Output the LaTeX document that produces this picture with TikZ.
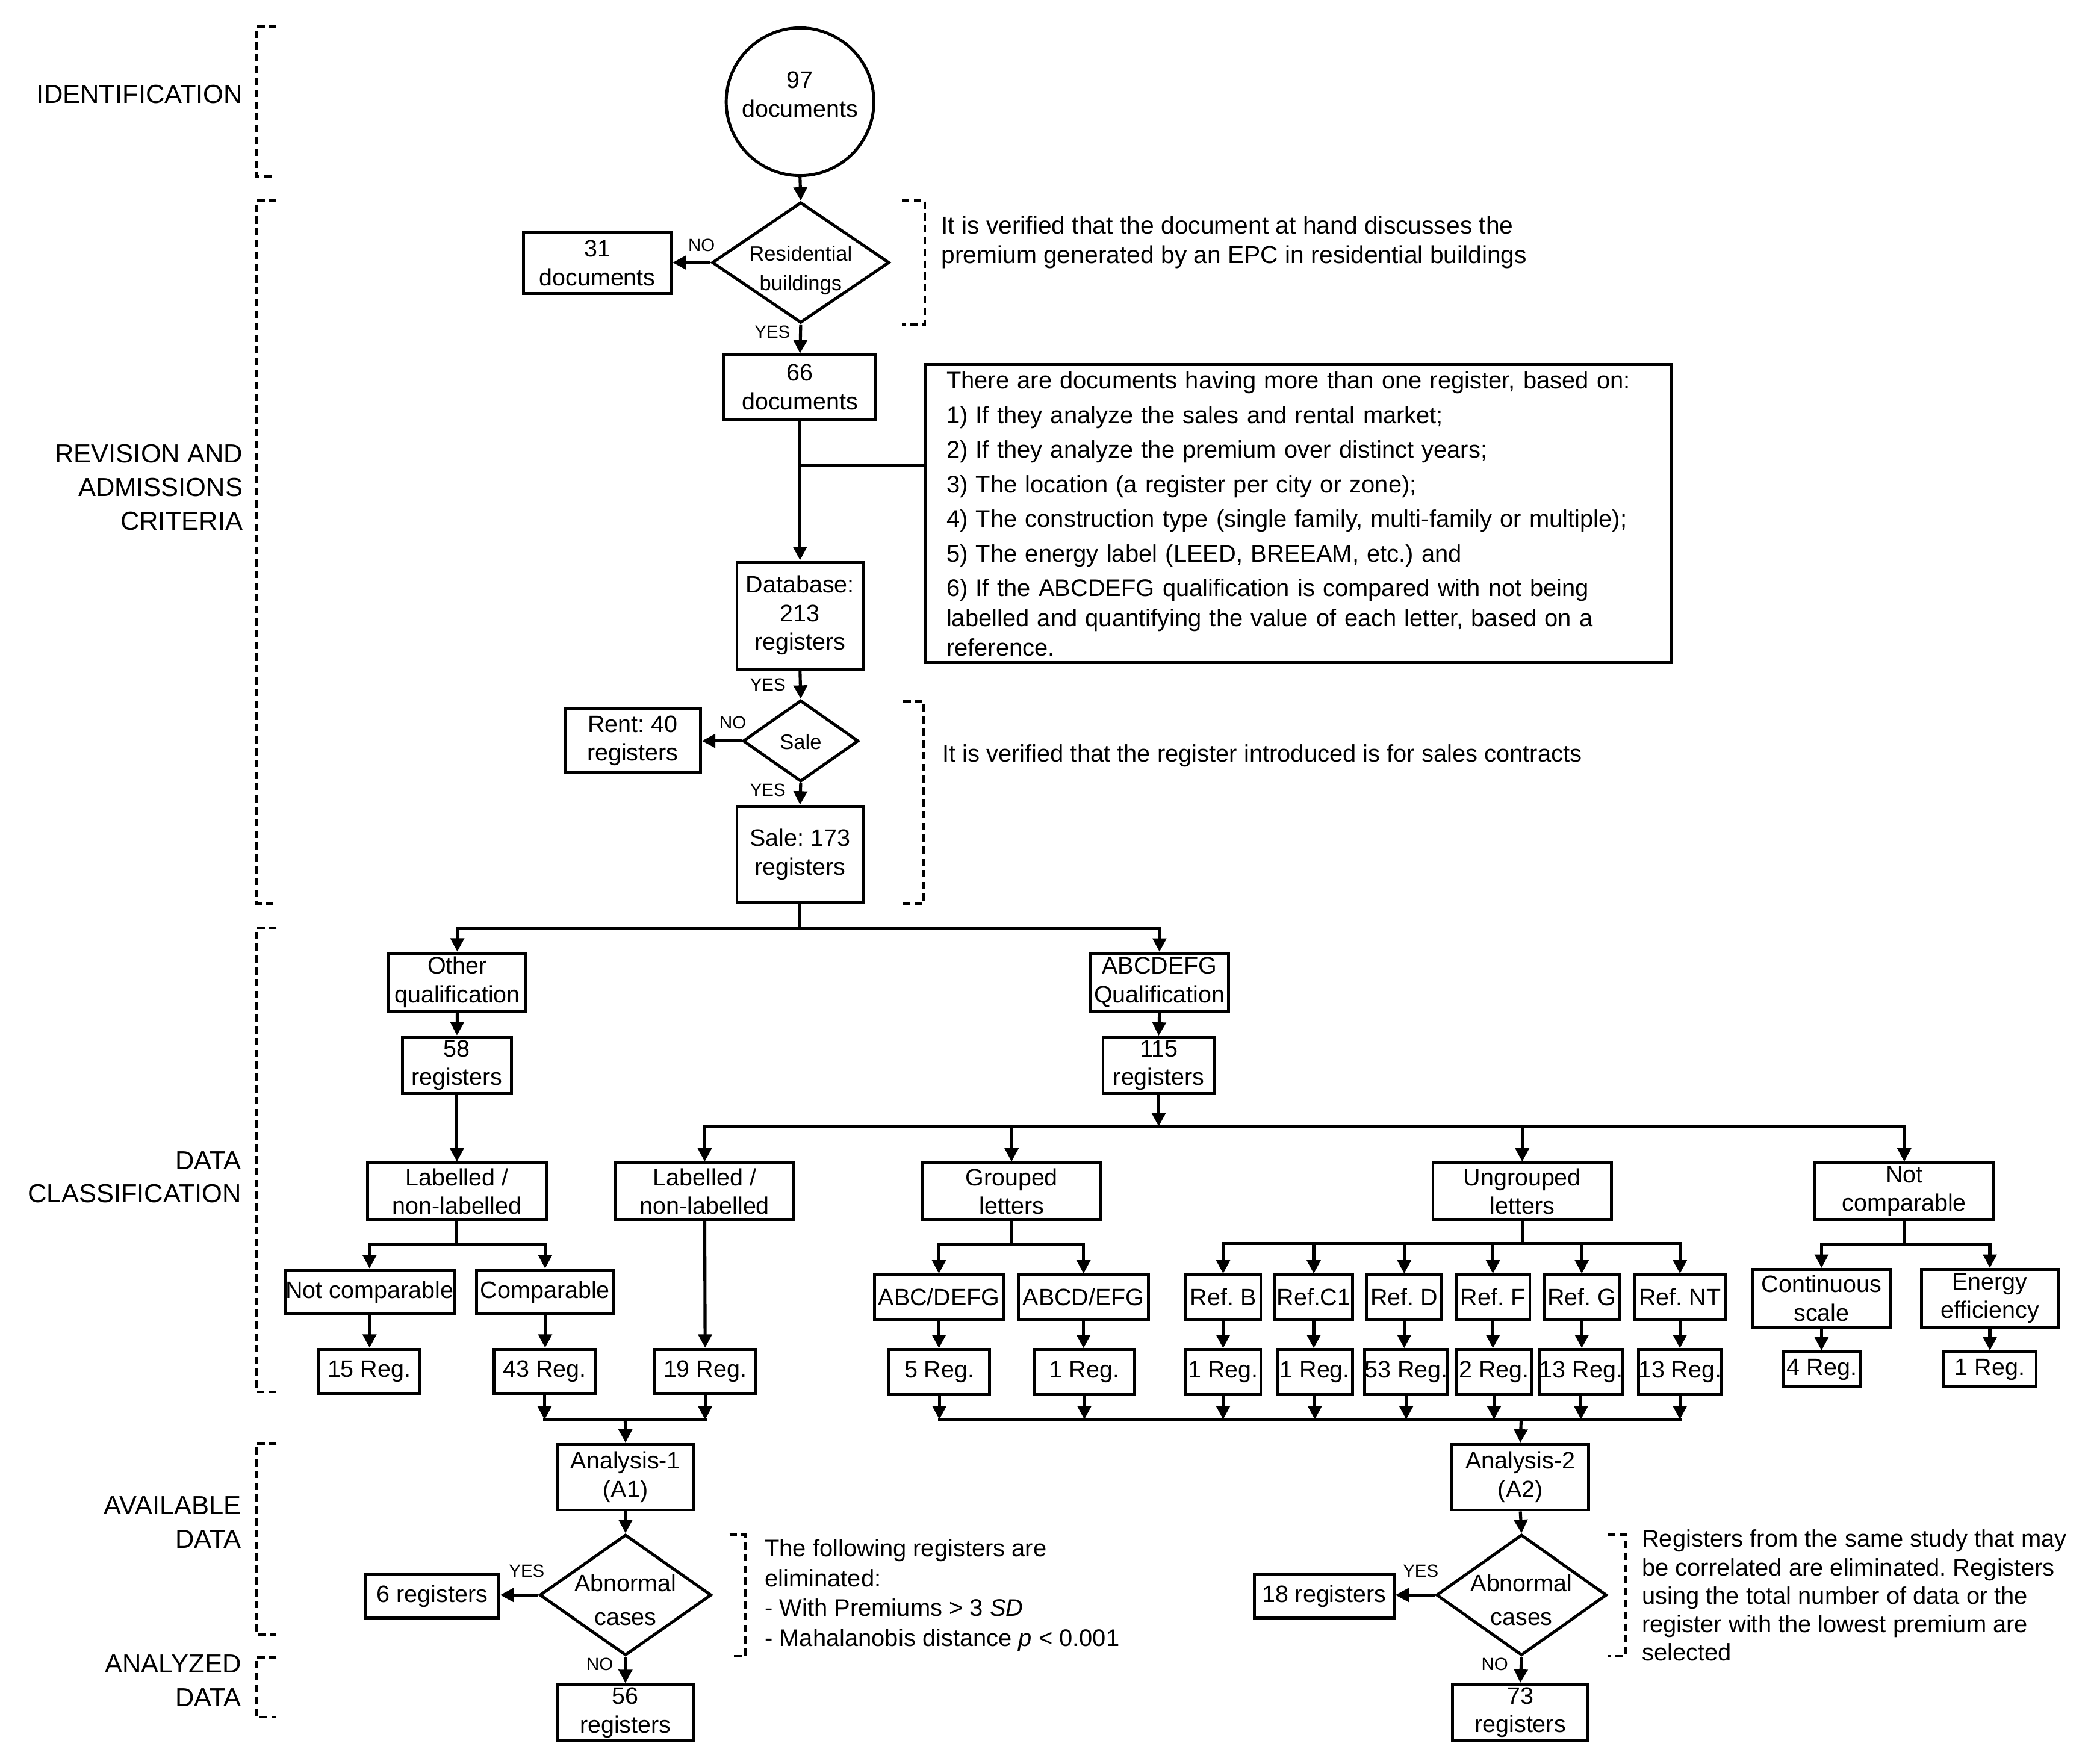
\documentclass[tikz,border=0pt]{standalone}
\usepackage{fontspec}
\setmainfont{Liberation Sans}
\usetikzlibrary{arrows.meta,shapes.geometric,calc}
\frenchspacing
\newcommand{\bxfont}{\fontsize{17.7}{21.3}\selectfont}
\newcommand{\dmfont}{\fontsize{15.5}{21.7}\selectfont}
\newcommand{\abfont}{\fontsize{17.7}{25}\selectfont}
\newcommand{\ynfont}{\fontsize{13.2}{15}\selectfont}
\newcommand{\ntfont}{\fontsize{18.3}{22.2}\selectfont}
\newcommand{\ntfontc}{\fontsize{17.9}{22.2}\selectfont}
\newcommand{\ntfontb}{\fontsize{17.9}{21.2}\selectfont}
\newcommand{\lbfont}{\fontsize{19.5}{25}\selectfont}
\begin{document}
\begin{tikzpicture}[x=1pt,y=-1pt,
 box/.style={draw, rectangle, line width=2.2pt, inner sep=0pt, align=center, font=\bxfont},
 dmd/.style={draw, diamond, line width=2.2pt, inner sep=0pt},
 con/.style={line width=2.3pt},
 hcon/.style={line width=2.3pt, line cap=rect},
 arr/.style={line width=2.3pt, -{Triangle[width=10pt,length=10pt]}},
 brk/.style={line width=2pt, dash pattern=on 5.5pt off 3.3pt},
 yn/.style={font=\ynfont, inner sep=0pt},
 lbl/.style={font=\lbfont, align=right, anchor=east, inner sep=0pt},
 nt/.style={font=\ntfont, align=left, anchor=west, inner sep=0pt},
]
\fill[white] (0,0) rectangle (1560,1314.2);
\useasboundingbox (0,0) rectangle (1560,1314.2);

% ---------- left brackets and labels
\draw[brk] (206,20) -- (191.2,20) -- (191.2,131.6) -- (206,131.6);
\draw[brk] (206,149.6) -- (191.2,149.6) -- (191.2,673.3) -- (206,673.3);
\draw[brk] (206,691.3) -- (191.2,691.3) -- (191.2,1037) -- (206,1037);
\draw[brk] (206,1075.4) -- (191.2,1075.4) -- (191.2,1217.8) -- (206,1217.8);
\draw[brk] (206,1234.7) -- (191.2,1234.7) -- (191.2,1279.2) -- (206,1279.2);

\node[lbl] (lid) at (181,70) {IDENTIFICATION};
\node[lbl] (lrev) at (181,363) {REVISION AND\\ADMISSIONS\\CRITERIA};
\node[lbl] (ldc) at (180,877) {DATA\\CLASSIFICATION};
\node[lbl] (lav) at (180,1134) {AVAILABLE\\DATA};
\node[lbl] (lan) at (180,1252) {ANALYZED\\DATA};

% ---------- right brackets of notes
\draw[brk] (672,149.5) -- (689,149.5) -- (689,241.5) -- (672,241.5);
\draw[brk] (673,522.7) -- (688.3,522.7) -- (688.3,673.3) -- (673,673.3);
\draw[brk] (543.5,1143.3) -- (555.5,1143.3) -- (555.5,1233.8) -- (543.5,1233.8);
\draw[brk] (1198,1143.3) -- (1211,1143.3) -- (1211,1233.8) -- (1198,1233.8);

% ---------- top part
\node[draw, circle, line width=2.2pt, minimum size=110pt, inner sep=0pt] (c97) at (596,75.8) {};
\node[font=\bxfont, align=center, inner sep=0pt] (t97) at (596,70.3) {97\\documents};

\node[dmd, minimum width=132pt, minimum height=90pt] (d1) at (596.5,195.6) {};
\node[font=\dmfont, align=center, inner sep=0pt] (t1) at (596.5,201.5) {Residential\\buildings};
\node[box, minimum width=110pt, minimum height=45pt] (b31) at (445,196) {31\\documents};
\node[box, minimum width=113pt, minimum height=48pt] (b66) at (596,288.4) {66\\documents};

\node[draw, rectangle, line width=2.2pt, font=\ntfontc, text width=524pt, align=left,
      inner xsep=16pt, inner ysep=0pt, minimum height=222pt] (nbig) at (967.1,382.75)
 {There are documents having more than one register, based on:\\[3.6pt]
  1) If they analyze the sales and rental market;\\[3.6pt]
  2) If they analyze the premium over distinct years;\\[3.6pt]
  3) The location (a register per city or zone);\\[3.6pt]
  4) The construction type (single family, multi-family or multiple);\\[3.6pt]
  5) The energy label (LEED, BREEAM, etc.) and\\[3.6pt]
  6) If the ABCDEFG qualification is compared with not being\\
  labelled and quantifying the value of each letter, based on a\\
  reference.};

\node[box, minimum width=94pt, minimum height=80pt] (db) at (596,458.5) {Database:\\213\\registers};
\node[dmd, minimum width=86pt, minimum height=60.6pt] (d2) at (596.5,552) {};
\node[font=\dmfont, inner sep=0pt] (t2) at (596.5,552.5) {Sale};
\node[box, minimum width=101pt, minimum height=48pt] (rent) at (471.3,551.8) {Rent: 40\\registers};
\node[box, minimum width=94pt, minimum height=72pt] (s173) at (596,636.6) {Sale: 173\\registers};

\node[nt] (n1) at (701,180.4) {It is verified that the document at hand discusses the\\premium generated by an EPC in residential buildings};
\node[nt, font=\ntfontc, anchor=base west] (n2) at (701.8,567.5) {It is verified that the register introduced is for sales contracts};

% ---------- data classification
\node[box, minimum width=102pt, minimum height=43pt] (oq) at (340.7,731.6) {Other\\qualification};
\node[box, minimum width=103pt, minimum height=43pt] (aq) at (863.8,731.7) {ABCDEFG\\Qualification};
\node[box, minimum width=81pt, minimum height=42pt] (r58) at (340.4,793.5) {58\\registers};
\node[box, minimum width=83pt, minimum height=42pt] (r115) at (863.2,793.7) {115\\registers};

\node[box, minimum width=133pt, minimum height=42pt] (lab1) at (340.4,887.5) {Labelled /\\non-labelled};
\node[box, minimum width=133pt, minimum height=42pt] (lab2) at (525,887.5) {Labelled /\\non-labelled};
\node[box, minimum width=133pt, minimum height=42pt] (grp) at (753.6,887.5) {Grouped\\letters};
\node[box, minimum width=133pt, minimum height=42pt] (ugr) at (1134,887.5) {Ungrouped\\letters};
\node[box, minimum width=133pt, minimum height=42pt] (ncp) at (1418.6,887.5) {Not\\comparable};

\node[box, minimum width=126pt, minimum height=33pt] (nc2) at (275.3,962.6) {Not comparable};
\node[box, minimum width=102pt, minimum height=33pt] (cmp) at (406.1,962.6) {Comparable};
\node[box, minimum width=96pt, minimum height=33pt] (abc) at (699.5,966.4) {ABC/DEFG};
\node[box, minimum width=97pt, minimum height=33pt] (abcd) at (807.2,966.4) {ABCD/EFG};
\node[box, minimum width=56pt, minimum height=33pt] (refB) at (911.2,966.4) {Ref. B};
\node[box, minimum width=58pt, minimum height=33pt] (refC) at (978.7,966.4) {Ref.C1};
\node[box, minimum width=56pt, minimum height=33pt] (refD) at (1046.1,966.4) {Ref. D};
\node[box, minimum width=55pt, minimum height=33pt] (refF) at (1112.2,966.4) {Ref. F};
\node[box, minimum width=56pt, minimum height=33pt] (refG) at (1178.4,966.4) {Ref. G};
\node[box, minimum width=68pt, minimum height=33pt] (refNT) at (1251.5,966.4) {Ref. NT};
\node[box, minimum width=103pt, minimum height=43pt] (cont) at (1357,967.2) {Continuous\\scale};
\node[box, minimum width=102pt, minimum height=43pt] (enr) at (1482.4,967.2) {Energy\\efficiency};

\node[box, minimum width=75pt, minimum height=33pt] (r15) at (275,1021.7) {15 Reg.};
\node[box, minimum width=75pt, minimum height=33pt] (r43) at (405.7,1021.7) {43 Reg.};
\node[box, minimum width=75pt, minimum height=33pt] (r19) at (525.3,1021.7) {19 Reg.};
\node[box, minimum width=75pt, minimum height=33pt] (r5) at (699.8,1022) {5 Reg.};
\node[box, minimum width=75pt, minimum height=33pt] (r1a) at (807.8,1022) {1 Reg.};
\node[box, minimum width=56pt, minimum height=33pt] (r1b) at (911.2,1022) {1 Reg.};
\node[box, minimum width=56pt, minimum height=33pt] (r1c) at (979.5,1022) {1 Reg.};
\node[box, minimum width=62pt, minimum height=33pt] (r53) at (1047.6,1022) {53 Reg.};
\node[box, minimum width=56pt, minimum height=33pt] (r2) at (1113,1022) {2 Reg.};
\node[box, minimum width=62pt, minimum height=33pt] (r13a) at (1177.8,1022) {13 Reg.};
\node[box, minimum width=62pt, minimum height=33pt] (r13b) at (1251.5,1022) {13 Reg.};
\node[box, minimum width=57pt, minimum height=26pt] (r4) at (1357.3,1020.2) {4 Reg.};
\node[box, minimum width=69pt, minimum height=26pt] (r1e) at (1482.4,1020.2) {1 Reg.};

% ---------- analysis part
\node[box, minimum width=102pt, minimum height=49pt] (a1) at (466,1100.4) {Analysis-1\\(A1)};
\node[dmd, minimum width=128pt, minimum height=90pt] (d3) at (466,1188.3) {};
\node[font=\abfont, align=center, inner sep=0pt] (t3) at (466,1192) {Abnormal\\cases};
\node[box, minimum width=99pt, minimum height=33pt] (six) at (322,1189) {6 registers};
\node[box, minimum width=101pt, minimum height=42pt] (r56) at (465.9,1276) {56\\registers};
\node[nt, font=\ntfontc] (n3) at (569.6,1188.5) {The following registers are\\eliminated:\\- With Premiums > 3 \textit{SD}\\- Mahalanobis distance \textit{p} < 0.001};

\node[box, minimum width=102pt, minimum height=49pt] (a2) at (1132.6,1100.4) {Analysis-2\\(A2)};
\node[dmd, minimum width=127pt, minimum height=90pt] (d4) at (1133.5,1188.3) {};
\node[font=\abfont, align=center, inner sep=0pt] (t4) at (1133.5,1192) {Abnormal\\cases};
\node[box, minimum width=104pt, minimum height=33pt] (r18) at (986.4,1189) {18 registers};
\node[box, minimum width=101pt, minimum height=42pt] (r73) at (1132.6,1275.8) {73\\registers};
\node[nt, font=\ntfontb] (n4) at (1223,1188.6) {Registers from the same study that may\\be correlated are eliminated. Registers\\using the total number of data or the\\register with the lowest premium are\\selected};

% ---------- YES / NO labels
\node[yn] (no1) at (522.6,182.5) {NO};
\node[yn] (yes1) at (575.4,247.4) {YES};
\node[yn] (yes2) at (572,510.3) {YES};
\node[yn] (no2) at (546,538.6) {NO};
\node[yn] (yes3) at (572,588.8) {YES};
\node[yn] (yes4) at (392.4,1170.4) {YES};
\node[yn] (no3) at (446.8,1239.8) {NO};
\node[yn] (yes5) at (1058.4,1170.4) {YES};
\node[yn] (no4) at (1113.6,1239.8) {NO};

% ---------- connectors top
\draw[arr] (c97.south) -- (d1.north);
\draw[arr] (d1.west) -- (d1.west -| b31.east);
\draw[arr] (d1.south) -- (b66.north);
\draw[arr] (b66.south) -- (db.north);
\coordinate (j1) at (596,347);
\draw[con] (j1) -- (j1 -| nbig.west);
\draw[arr] (db.south) -- (d2.north);
\draw[arr] (d2.west) -- (d2.west -| rent.east);
\draw[arr] (d2.south) -- (s173.north);
\coordinate (s1) at (596,691.3);
\draw[con] (s173.south) -- (s1);
\draw[arr] (s1) -| (oq.north);
\draw[arr] (s1) -| (aq.north);
\draw[arr] (oq.south) -- (r58.north);
\draw[arr] (aq.south) -- (r115.north);
\draw[arr] (r58.south) -- (lab1.north);

\coordinate (s2) at (863.2,839.2);
\draw[arr] (r115.south) -- (s2);
\draw[arr] (s2) -| (lab2.north);
\draw[arr] (s2) -| (ncp.north);
\draw[arr] (grp.north |- s2) -- (grp.north);
\draw[arr] (ugr.north |- s2) -- (ugr.north);

\coordinate (s3) at (340.4,926.8);
\draw[con] (lab1.south) -- (s3);
\draw[arr] (s3) -| (nc2.north);
\draw[arr] (s3) -| (cmp.north);
\draw[arr] (lab2.south) -- (r19.north);

\coordinate (s4) at (753.6,926.8);
\draw[con] (grp.south) -- (s4);
\draw[arr] (s4) -| (abc.north);
\draw[arr] (s4) -| (abcd.north);

\coordinate (s5) at (1134,926.4);
\draw[con] (ugr.south) -- (s5);
\draw[arr] (s5) -| (refB.north);
\draw[arr] (s5) -| (refNT.north);
\foreach \n in {refC,refD,refF,refG} \draw[arr] (\n.north |- s5) -- (\n.north);

\coordinate (s6) at (1418.6,926.8);
\draw[con] (ncp.south) -- (s6);
\draw[arr] (s6) -| (cont.north);
\draw[arr] (s6) -| (enr.north);

% ---------- row 3 to row 4
\draw[arr] (nc2.south) -- (nc2.south |- r15.north);
\draw[arr] (cmp.south) -- (cmp.south |- r43.north);
\draw[arr] (abc.south) -- (abc.south |- r5.north);
\draw[arr] (abcd.south) -- (abcd.south |- r1a.north);
\draw[arr] (refB.south) -- (refB.south |- r1b.north);
\draw[arr] (refC.south) -- (refC.south |- r1c.north);
\draw[arr] (refD.south) -- (refD.south |- r53.north);
\draw[arr] (refF.south) -- (refF.south |- r2.north);
\draw[arr] (refG.south) -- (refG.south |- r13a.north);
\draw[arr] (refNT.south) -- (refNT.south |- r13b.north);
\draw[arr] (cont.south) -- (cont.south |- r4.north);
\draw[arr] (enr.south) -- (enr.south |- r1e.north);

% ---------- merges
\coordinate (m1) at (465.8,1057.7);
\draw[hcon] (r43.south |- m1) -- (r19.south |- m1);
\foreach \n in {r43,r19} \draw[arr] (\n.south) -- (\n.south |- m1);
\draw[arr] (m1) -- (a1.north);

\coordinate (m2) at (1133.2,1057.5);
\draw[hcon] (r5.south |- m2) -- (r13b.south |- m2);
\foreach \n in {r5,r1a,r1b,r1c,r53,r2,r13a,r13b} \draw[arr] (\n.south) -- (\n.south |- m2);
\draw[arr] (m2) -- (a2.north);

% ---------- analysis connectors
\draw[arr] (a1.south) -- (d3.north);
\draw[arr] (d3.west) -- (d3.west -| six.east);
\draw[arr] (d3.south) -- (r56.north);
\draw[arr] (a2.south) -- (d4.north);
\draw[arr] (d4.west) -- (d4.west -| r18.east);
\draw[arr] (d4.south) -- (r73.north);
\end{tikzpicture}
\end{document}
